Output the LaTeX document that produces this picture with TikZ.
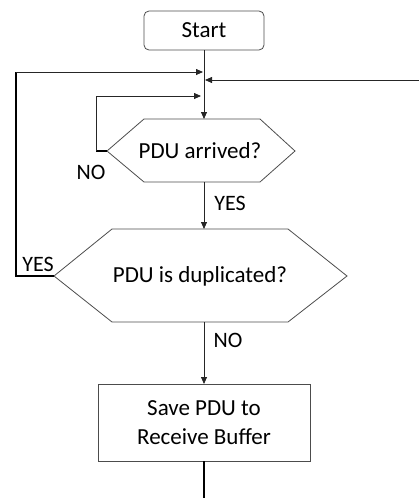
\documentclass[tikz,border=0pt]{standalone}
\usepackage{fontspec}
\setmainfont{Carlito}
\usetikzlibrary{arrows.meta}
\begin{document}
\begin{tikzpicture}[x=1pt,y=-1pt,
  every node/.style={font=\fontsize{23}{29}\selectfont, inner sep=0pt, outer sep=0pt},
  flow/.style={line width=0.8pt, draw=black!85},
  heavy/.style={line width=1.4pt, draw=black},
  arr/.style={-{Triangle[length=7pt,width=6pt]}},
  shapeline/.style={line width=0.8pt, draw=black!70},
  lbl/.style={font=\fontsize{22}{26}\selectfont}]
\useasboundingbox (0,0) rectangle (419,498);

% start terminal
\node[shapeline, rounded corners=5pt, minimum width=120pt, minimum height=39pt] (start) at (204,30.5) {Start};

% first decision: PDU arrived?
\coordinate (a1) at (144,119);
\coordinate (a2) at (260,119);
\coordinate (a3) at (295,151);
\coordinate (a4) at (260,182);
\coordinate (a5) at (144,182);
\coordinate (a6) at (107,151);
\draw[shapeline] (a1) -- (a2) -- (a3) -- (a4) -- (a5) -- (a6) -- cycle;
\node (arrived) at (200,151) {PDU arrived?};
\coordinate (arrT) at (204,119);
\coordinate (arrB) at (204,182);

% second decision: PDU is duplicated?
\coordinate (d1) at (112,229);
\coordinate (d2) at (288,229);
\coordinate (d3) at (347,276);
\coordinate (d4) at (288,322);
\coordinate (d5) at (112,322);
\coordinate (d6) at (54,276);
\draw[shapeline] (d1) -- (d2) -- (d3) -- (d4) -- (d5) -- (d6) -- cycle;
\node (dup) at (200,276) {PDU is duplicated?};
\coordinate (dupT) at (204,229);
\coordinate (dupB) at (204,322);

% process box
\node[shapeline, minimum width=212pt, minimum height=77pt, align=center] (save) at (204,422.5) {Save PDU to\\Receive Buffer};

% merge points on the main line
\coordinate (mL) at (203,72);
\coordinate (mR) at (205,80);
\coordinate (mN) at (201,96);
\coordinate (leftX) at (16,72);
\coordinate (rightX) at (419,80);
\coordinate (noX) at (96,96);
\coordinate (outB) at (204,498);

% main flow
\draw[flow, arr] (start.south) -- (arrT);
\draw[flow, arr] (arrB) -- (dupT);
\draw[flow, arr] (dupB) -- (save.north);
\draw[heavy] (save.south) -- (outB);

% NO loop of first decision
\draw[heavy] (a6) -- (noX |- a6);
\draw[flow, arr] (noX |- a6) -- (noX) -- (mN);

% YES loop of second decision
\draw[heavy] (d6) -- (leftX |- d6) -- (leftX);
\draw[flow, arr] (leftX) -- (mL);

% return from the right
\draw[flow, arr] (rightX) -- (mR);

% branch labels
\node[lbl] (noA) at (91,172) {NO};
\node[lbl] (yesA) at (230,203) {YES};
\node[lbl] (yesD) at (38,264) {YES};
\node[lbl] (noD) at (228,340) {NO};
\end{tikzpicture}
\end{document}
